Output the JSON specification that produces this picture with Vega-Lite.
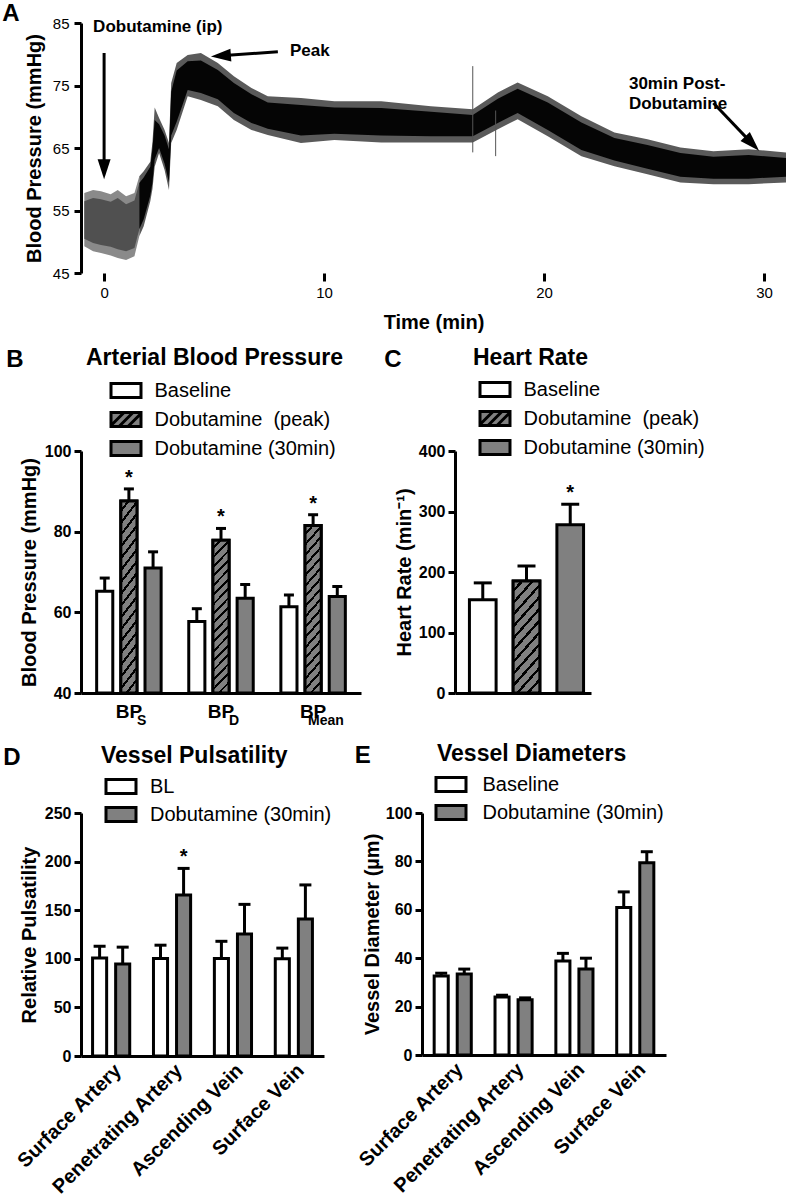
{
"$schema": "https://vega.github.io/schema/vega-lite/v6.json",
"background": "white",
"padding": {"left": 2, "top": 2, "right": 0, "bottom": 0},
"config": {
  "font": "Liberation Sans",
  "view": {"stroke": null},
  "axis": {"domainColor": "black", "domainWidth": 3, "tickColor": "black", "tickWidth": 3, "tickSize": 7, "labelColor": "black", "titleColor": "black", "labelFontSize": 16, "labelFontWeight": "bold", "titleFontSize": 20, "titleFontWeight": "bold", "grid": false, "labelPadding": 3},
  "legend": {"orient": "none", "padding": 0, "symbolType": "M-1.071,-0.5H1.071V0.5H-1.071Z", "symbolSize": 784, "symbolStrokeWidth": 3, "symbolStrokeColor": "black", "symbolOpacity": 1, "labelFontSize": 20, "labelColor": "black", "labelLimit": 400, "direction": "vertical", "rowPadding": 0},
  "title": {"color": "black", "fontWeight": "bold"},
  "bar": {"stroke": "black", "strokeWidth": 3}
},
"datasets": {
  "trace_early": [
    {"t": -0.9, "lo": 49.3, "hi": 57.8, "clo": 50.5, "chi": 56.5},
    {"t": -0.5, "lo": 48.5, "hi": 58.3, "clo": 49.8, "chi": 57.0},
    {"t": -0.14, "lo": 48.2, "hi": 58.1, "clo": 49.5, "chi": 56.8},
    {"t": 0.3, "lo": 47.8, "hi": 57.6, "clo": 49.2, "chi": 56.4},
    {"t": 0.62, "lo": 47.4, "hi": 58.3, "clo": 48.8, "chi": 57.0},
    {"t": 1.0, "lo": 47.1, "hi": 57.3, "clo": 48.5, "chi": 56.0},
    {"t": 1.38, "lo": 47.7, "hi": 57.8, "clo": 49.0, "chi": 56.6},
    {"t": 1.6, "lo": 50.9, "hi": 60.5, "clo": 52.0, "chi": 59.4}
  ],
  "trace_main": [
    {"t": 1.6, "lo": 50.9, "hi": 60.5, "clo": 52.0, "chi": 59.4},
    {"t": 1.8, "lo": 52.5, "hi": 61.3, "clo": 53.6, "chi": 60.3},
    {"t": 2.1, "lo": 56.5, "hi": 62.8, "clo": 57.4, "chi": 62.0},
    {"t": 2.2, "lo": 58.5, "hi": 66.0, "clo": 59.5, "chi": 65.0},
    {"t": 2.3, "lo": 62.0, "hi": 71.5, "clo": 63.2, "chi": 69.5},
    {"t": 2.5, "lo": 64.2, "hi": 69.8, "clo": 65.0, "chi": 68.8},
    {"t": 2.75, "lo": 61.5, "hi": 67.9, "clo": 62.5, "chi": 67.0},
    {"t": 2.95, "lo": 58.3, "hi": 65.8, "clo": 59.5, "chi": 64.8},
    {"t": 3.05, "lo": 65.8, "hi": 75.4, "clo": 67.0, "chi": 74.0},
    {"t": 3.3, "lo": 67.9, "hi": 78.6, "clo": 69.2, "chi": 77.4},
    {"t": 3.8, "lo": 73.3, "hi": 79.9, "clo": 74.3, "chi": 78.9},
    {"t": 4.4, "lo": 72.7, "hi": 80.2, "clo": 73.8, "chi": 79.0},
    {"t": 5.17, "lo": 71.7, "hi": 78.6, "clo": 72.8, "chi": 77.5},
    {"t": 5.9, "lo": 69.5, "hi": 76.5, "clo": 70.6, "chi": 75.4},
    {"t": 6.7, "lo": 67.9, "hi": 74.6, "clo": 69.0, "chi": 73.6},
    {"t": 7.44, "lo": 67.1, "hi": 73.3, "clo": 68.1, "chi": 72.3},
    {"t": 8.95, "lo": 65.8, "hi": 73.0, "clo": 67.0, "chi": 71.9},
    {"t": 10.47, "lo": 66.3, "hi": 72.5, "clo": 67.3, "chi": 71.5},
    {"t": 12.6, "lo": 65.9, "hi": 72.5, "clo": 67.0, "chi": 71.4},
    {"t": 14.86, "lo": 65.9, "hi": 71.7, "clo": 66.9, "chi": 70.8},
    {"t": 16.76, "lo": 65.9, "hi": 71.2, "clo": 66.9, "chi": 70.3},
    {"t": 17.9, "lo": 68.0, "hi": 73.9, "clo": 69.0, "chi": 72.9},
    {"t": 18.8, "lo": 69.6, "hi": 75.5, "clo": 70.6, "chi": 74.5},
    {"t": 20.17, "lo": 66.9, "hi": 73.3, "clo": 67.9, "chi": 72.3},
    {"t": 21.7, "lo": 63.7, "hi": 70.1, "clo": 64.7, "chi": 69.1},
    {"t": 23.2, "lo": 62.1, "hi": 67.5, "clo": 63.0, "chi": 66.6},
    {"t": 24.7, "lo": 60.8, "hi": 66.4, "clo": 61.7, "chi": 65.5},
    {"t": 26.2, "lo": 59.5, "hi": 65.1, "clo": 60.4, "chi": 64.2},
    {"t": 27.7, "lo": 59.2, "hi": 64.5, "clo": 60.1, "chi": 63.6},
    {"t": 29.3, "lo": 59.2, "hi": 64.8, "clo": 60.1, "chi": 63.9},
    {"t": 31.0, "lo": 59.5, "hi": 64.3, "clo": 60.4, "chi": 63.4}
  ],
  "spikes": [
    {"t": 16.76, "lo": 64.3, "hi": 78.1},
    {"t": 17.8, "lo": 63.7, "hi": 71.0}
  ],
  "arrows": [
    {"name": "ip", "t1": 0, "y1": 80.2, "t2": 0, "y2": 61.6},
    {"name": "peak", "t1": 7.9, "y1": 80.4, "t2": 5.31, "y2": 79.75},
    {"name": "post", "t1": 27.7, "y1": 72.2, "t2": 29.46, "y2": 65.7}
  ],
  "notes": [
    {"t": -0.5, "bp": 84.4, "label": "Dobutamine (ip)"},
    {"t": 8.45, "bp": 80.5, "label": "Peak"},
    {"t": 23.86, "bp": 75.2, "label": "30min Post-\nDobutamine"}
  ],
  "bp": [
    {"measure": "BPS", "series": "Baseline", "mean": 65.2, "upper": 68.5, "sig": ""},
    {"measure": "BPS", "series": "Dobutamine\u00a0 (peak)", "mean": 87.6, "upper": 90.6, "sig": "*"},
    {"measure": "BPS", "series": "Dobutamine (30min)", "mean": 71.0, "upper": 75.0, "sig": ""},
    {"measure": "BPD", "series": "Baseline", "mean": 57.7, "upper": 60.9, "sig": ""},
    {"measure": "BPD", "series": "Dobutamine\u00a0 (peak)", "mean": 77.9, "upper": 80.8, "sig": "*"},
    {"measure": "BPD", "series": "Dobutamine (30min)", "mean": 63.5, "upper": 66.9, "sig": ""},
    {"measure": "BPMean", "series": "Baseline", "mean": 61.4, "upper": 64.3, "sig": ""},
    {"measure": "BPMean", "series": "Dobutamine\u00a0 (peak)", "mean": 81.5, "upper": 84.2, "sig": "*"},
    {"measure": "BPMean", "series": "Dobutamine (30min)", "mean": 63.9, "upper": 66.4, "sig": ""}
  ],
  "bpsub": [
    {"measure": "BPS", "sub": "S"},
    {"measure": "BPD", "sub": "D"},
    {"measure": "BPMean", "sub": "Mean"}
  ],
  "hr": [
    {"series": "Baseline", "mean": 154, "upper": 182, "sig": ""},
    {"series": "Dobutamine\u00a0 (peak)", "mean": 185, "upper": 210, "sig": ""},
    {"series": "Dobutamine (30min)", "mean": 278, "upper": 312, "sig": "*"}
  ],
  "puls": [
    {"vessel": "Surface Artery", "group": "BL", "mean": 100.8, "upper": 113, "sig": ""},
    {"vessel": "Surface Artery", "group": "Dobutamine (30min)", "mean": 94.7, "upper": 112, "sig": ""},
    {"vessel": "Penetrating Artery", "group": "BL", "mean": 100.2, "upper": 114, "sig": ""},
    {"vessel": "Penetrating Artery", "group": "Dobutamine (30min)", "mean": 165.6, "upper": 193, "sig": "*"},
    {"vessel": "Ascending Vein", "group": "BL", "mean": 100.4, "upper": 118, "sig": ""},
    {"vessel": "Ascending Vein", "group": "Dobutamine (30min)", "mean": 125.5, "upper": 156, "sig": ""},
    {"vessel": "Surface Vein", "group": "BL", "mean": 100.0, "upper": 111, "sig": ""},
    {"vessel": "Surface Vein", "group": "Dobutamine (30min)", "mean": 141, "upper": 176, "sig": ""}
  ],
  "diam": [
    {"vessel": "Surface Artery", "group": "Baseline", "mean": 32.6, "upper": 33.8},
    {"vessel": "Surface Artery", "group": "Dobutamine (30min)", "mean": 33.5, "upper": 35.5},
    {"vessel": "Penetrating Artery", "group": "Baseline", "mean": 24.0, "upper": 24.7},
    {"vessel": "Penetrating Artery", "group": "Dobutamine (30min)", "mean": 22.8, "upper": 23.6},
    {"vessel": "Ascending Vein", "group": "Baseline", "mean": 38.8, "upper": 42.0},
    {"vessel": "Ascending Vein", "group": "Dobutamine (30min)", "mean": 35.5, "upper": 40.0},
    {"vessel": "Surface Vein", "group": "Baseline", "mean": 61.0, "upper": 67.4},
    {"vessel": "Surface Vein", "group": "Dobutamine (30min)", "mean": 79.4, "upper": 84.0}
  ]
},
"spacing": 15,
"resolve": {"scale": {"color": "independent", "xOffset": "independent", "shape": "independent"}, "legend": {"color": "independent", "shape": "independent"}},
"vconcat": [
  {
    "title": {"text": "A", "anchor": "start", "frame": "bounds", "fontSize": 24, "dx": -22, "offset": -10},
    "width": 705, "height": 250,
    "layer": [
      {"data": {"name": "trace_early"}, "mark": {"type": "area", "color": "#8a8a8a"},
       "encoding": {
         "x": {"field": "t", "type": "quantitative", "scale": {"domain": [-1.05, 31], "nice": false, "zero": false},
               "axis": {"title": "Time (min)", "values": [0, 10, 20, 30], "domain": false, "tickSize": 8, "tickWidth": 3, "labelFontSize": 15, "labelFontWeight": "normal", "labelPadding": 4, "titlePadding": 12}},
         "y": {"field": "lo", "type": "quantitative", "scale": {"domain": [45, 85], "nice": false, "zero": false},
               "axis": {"title": "Blood Pressure (mmHg)", "values": [45, 55, 65, 75, 85], "labelFontSize": 15, "labelFontWeight": "normal", "labelPadding": 5, "titlePadding": 8}},
         "y2": {"field": "hi"}}},
      {"data": {"name": "trace_early"}, "mark": {"type": "area", "color": "#505050"},
       "encoding": {"x": {"field": "t", "type": "quantitative"}, "y": {"field": "clo", "type": "quantitative"}, "y2": {"field": "chi"}}},
      {"data": {"name": "trace_main"}, "mark": {"type": "area", "color": "#5a5a5a"},
       "encoding": {"x": {"field": "t", "type": "quantitative"}, "y": {"field": "lo", "type": "quantitative"}, "y2": {"field": "hi"}}},
      {"data": {"name": "trace_main"}, "mark": {"type": "area", "color": "#050505"},
       "encoding": {"x": {"field": "t", "type": "quantitative"}, "y": {"field": "clo", "type": "quantitative"}, "y2": {"field": "chi"}}},
      {"data": {"name": "spikes"}, "mark": {"type": "rule", "color": "#555555", "strokeWidth": 1},
       "encoding": {"x": {"field": "t", "type": "quantitative"}, "y": {"field": "lo", "type": "quantitative"}, "y2": {"field": "hi"}}},
      {"data": {"name": "arrows"}, "mark": {"type": "rule", "color": "black", "strokeWidth": 3},
       "encoding": {"x": {"field": "t1", "type": "quantitative"}, "y": {"field": "y1", "type": "quantitative"}, "x2": {"field": "t2"}, "y2": {"field": "y2"}}},
      {"data": {"name": "arrows"}, "transform": [{"filter": "datum.name === 'ip'"}],
       "mark": {"type": "point", "shape": "M0,-1L0.65,1L-0.65,1Z", "size": 400, "filled": true, "color": "black", "opacity": 1, "angle": 180},
       "encoding": {"x": {"field": "t2", "type": "quantitative"}, "y": {"field": "y2", "type": "quantitative"}}},
      {"data": {"name": "arrows"}, "transform": [{"filter": "datum.name === 'peak'"}],
       "mark": {"type": "point", "shape": "M0,-1L0.65,1L-0.65,1Z", "size": 400, "filled": true, "color": "black", "opacity": 1, "angle": 266},
       "encoding": {"x": {"field": "t2", "type": "quantitative"}, "y": {"field": "y2", "type": "quantitative"}}},
      {"data": {"name": "arrows"}, "transform": [{"filter": "datum.name === 'post'"}],
       "mark": {"type": "point", "shape": "M0,-1L0.65,1L-0.65,1Z", "size": 400, "filled": true, "color": "black", "opacity": 1, "angle": 136},
       "encoding": {"x": {"field": "t2", "type": "quantitative"}, "y": {"field": "y2", "type": "quantitative"}}},
      {"data": {"name": "notes"}, "mark": {"type": "text", "align": "left", "baseline": "middle", "fontSize": 17, "fontWeight": "bold", "lineBreak": "\n", "lineHeight": 20, "color": "black"},
       "encoding": {"x": {"field": "t", "type": "quantitative"}, "y": {"field": "bp", "type": "quantitative"}, "text": {"field": "label"}}}
    ]
  },
  {
    "hconcat": [
      {
        "title": {"text": "B", "anchor": "start", "frame": "bounds", "fontSize": 24, "dx": -13, "offset": -25},
        "vconcat": [
          {
            "title": {"text": "Arterial Blood Pressure", "anchor": "start", "frame": "group", "dx": 5, "fontSize": 23, "offset": 73},
            "width": 280, "height": 242,
            "data": {"name": "bp"},
            "layer": [
              {"mark": {"type": "bar"},
               "encoding": {
                 "x": {"field": "measure", "type": "nominal", "scale": {"domain": ["BPS", "BPD", "BPMean"], "paddingInner": 0.3, "paddingOuter": 0.17},
                       "axis": {"title": null, "ticks": false, "labelAngle": 0, "labelFontSize": 19, "labelPadding": 9, "labelExpr": "datum.value === 'BPMean' ? 'BP\u00a0\u00a0\u00a0\u00a0\u00a0\u00a0\u00a0' : 'BP\u00a0\u00a0'"}},
                 "xOffset": {"field": "series", "type": "nominal", "scale": {"domain": ["Baseline", "Dobutamine\u00a0 (peak)", "Dobutamine (30min)"], "paddingInner": 0.333}},
                 "y": {"field": "mean", "type": "quantitative", "scale": {"domain": [40, 100], "nice": false, "zero": false},
                       "axis": {"title": "Blood Pressure (mmHg)", "values": [40, 60, 80, 100], "titlePadding": 5}},
                 "y2": {"datum": 40},
                 "color": {"field": "series", "type": "nominal",
                           "scale": {"domain": ["Baseline", "Dobutamine\u00a0 (peak)", "Dobutamine (30min)"], "range": ["white", "#808080", "#808080"]},
                           "legend": {"title": null, "legendX": 29.5, "legendY": -76, "symbolSize": 784, "labelOffset": 13}}
               }},
              {"transform": [{"filter": "false"}],
               "mark": {"type": "point", "filled": true, "opacity": 1, "size": 784, "stroke": "black", "strokeWidth": 3},
               "encoding": {
                 "x": {"field": "measure", "type": "nominal"},
                 "y": {"field": "mean", "type": "quantitative"},
                 "shape": {"field": "series", "type": "nominal",
                           "scale": {"domain": ["Baseline", "Dobutamine\u00a0 (peak)", "Dobutamine (30min)"],
                                     "range": ["M-1.071,-0.5H1.071V0.5H-1.071Z", "M-1.071,-0.5H1.071V0.5H-1.071Z M-1.071,0.431L-0.14,-0.5 M-0.5,0.5L0.5,-0.5 M0.14,0.5L1.071,-0.431", "M-1.071,-0.5H1.071V0.5H-1.071Z"]},
                           "legend": {"title": null, "legendX": 29.5, "legendY": -76, "symbolSize": 784, "labelOffset": 13}}
               }},
              {"transform": [{"filter": "datum.series === 'Dobutamine\u00a0 (peak)'"}],
               "mark": {"type": "bar", "fill": {"gradient": "linear", "x1": 0, "y1": 0, "x2": 0.12, "y2": 1.097, "stops": [
                 {"offset": 0, "color": "#808080"}, {"offset": 0.0389, "color": "#808080"}, {"offset": 0.0389, "color": "#000000"}, {"offset": 0.0556, "color": "#000000"},
                 {"offset": 0.0556, "color": "#808080"}, {"offset": 0.0944, "color": "#808080"}, {"offset": 0.0944, "color": "#000000"}, {"offset": 0.1111, "color": "#000000"},
                 {"offset": 0.1111, "color": "#808080"}, {"offset": 0.15, "color": "#808080"}, {"offset": 0.15, "color": "#000000"}, {"offset": 0.1667, "color": "#000000"},
                 {"offset": 0.1667, "color": "#808080"}, {"offset": 0.2056, "color": "#808080"}, {"offset": 0.2056, "color": "#000000"}, {"offset": 0.2222, "color": "#000000"},
                 {"offset": 0.2222, "color": "#808080"}, {"offset": 0.2611, "color": "#808080"}, {"offset": 0.2611, "color": "#000000"}, {"offset": 0.2778, "color": "#000000"},
                 {"offset": 0.2778, "color": "#808080"}, {"offset": 0.3167, "color": "#808080"}, {"offset": 0.3167, "color": "#000000"}, {"offset": 0.3333, "color": "#000000"},
                 {"offset": 0.3333, "color": "#808080"}, {"offset": 0.3722, "color": "#808080"}, {"offset": 0.3722, "color": "#000000"}, {"offset": 0.3889, "color": "#000000"},
                 {"offset": 0.3889, "color": "#808080"}, {"offset": 0.4278, "color": "#808080"}, {"offset": 0.4278, "color": "#000000"}, {"offset": 0.4444, "color": "#000000"},
                 {"offset": 0.4444, "color": "#808080"}, {"offset": 0.4833, "color": "#808080"}, {"offset": 0.4833, "color": "#000000"}, {"offset": 0.5, "color": "#000000"},
                 {"offset": 0.5, "color": "#808080"}, {"offset": 0.5389, "color": "#808080"}, {"offset": 0.5389, "color": "#000000"}, {"offset": 0.5556, "color": "#000000"},
                 {"offset": 0.5556, "color": "#808080"}, {"offset": 0.5944, "color": "#808080"}, {"offset": 0.5944, "color": "#000000"}, {"offset": 0.6111, "color": "#000000"},
                 {"offset": 0.6111, "color": "#808080"}, {"offset": 0.65, "color": "#808080"}, {"offset": 0.65, "color": "#000000"}, {"offset": 0.6667, "color": "#000000"},
                 {"offset": 0.6667, "color": "#808080"}, {"offset": 0.7056, "color": "#808080"}, {"offset": 0.7056, "color": "#000000"}, {"offset": 0.7222, "color": "#000000"},
                 {"offset": 0.7222, "color": "#808080"}, {"offset": 0.7611, "color": "#808080"}, {"offset": 0.7611, "color": "#000000"}, {"offset": 0.7778, "color": "#000000"},
                 {"offset": 0.7778, "color": "#808080"}, {"offset": 0.8167, "color": "#808080"}, {"offset": 0.8167, "color": "#000000"}, {"offset": 0.8333, "color": "#000000"},
                 {"offset": 0.8333, "color": "#808080"}, {"offset": 0.8722, "color": "#808080"}, {"offset": 0.8722, "color": "#000000"}, {"offset": 0.8889, "color": "#000000"},
                 {"offset": 0.8889, "color": "#808080"}, {"offset": 0.9278, "color": "#808080"}, {"offset": 0.9278, "color": "#000000"}, {"offset": 0.9444, "color": "#000000"},
                 {"offset": 0.9444, "color": "#808080"}, {"offset": 0.9833, "color": "#808080"}, {"offset": 0.9833, "color": "#000000"}, {"offset": 1, "color": "#000000"}]}},
               "encoding": {"x": {"field": "measure", "type": "nominal"}, "xOffset": {"field": "series", "type": "nominal"}, "y": {"field": "mean", "type": "quantitative"}, "y2": {"datum": 40}}},
              {"mark": {"type": "rule", "color": "black", "strokeWidth": 3},
               "encoding": {"x": {"field": "measure", "type": "nominal"}, "xOffset": {"field": "series", "type": "nominal"}, "y": {"field": "mean", "type": "quantitative"}, "y2": {"field": "upper"}}},
              {"mark": {"type": "tick", "color": "black", "thickness": 3, "size": 10, "opacity": 1},
               "encoding": {"x": {"field": "measure", "type": "nominal"}, "xOffset": {"field": "series", "type": "nominal"}, "y": {"field": "upper", "type": "quantitative"}}},
              {"transform": [{"filter": "datum.sig === '*'"}],
               "mark": {"type": "text", "fontSize": 20, "fontWeight": "bold", "baseline": "alphabetic", "dy": -5, "color": "black"},
               "encoding": {"x": {"field": "measure", "type": "nominal"}, "xOffset": {"field": "series", "type": "nominal"}, "y": {"field": "upper", "type": "quantitative"}, "text": {"field": "sig"}}},
              {"data": {"name": "bpsub"}, "transform": [{"filter": "datum.measure !== 'BPMean'"}],
               "mark": {"type": "text", "align": "left", "baseline": "top", "dx": 8, "dy": 21, "fontSize": 14, "fontWeight": "bold", "color": "black"},
               "encoding": {"x": {"field": "measure", "type": "nominal"}, "y": {"datum": 40}, "text": {"field": "sub"}}},
              {"data": {"name": "bpsub"}, "transform": [{"filter": "datum.measure === 'BPMean'"}],
               "mark": {"type": "text", "align": "left", "baseline": "top", "dx": -5, "dy": 21, "fontSize": 14, "fontWeight": "bold", "color": "black"},
               "encoding": {"x": {"field": "measure", "type": "nominal"}, "y": {"datum": 40}, "text": {"field": "sub"}}}
            ]
          }
        ]
      },
      {
        "title": {"text": "C", "anchor": "start", "frame": "bounds", "fontSize": 24, "dx": -10, "offset": -25},
        "vconcat": [
          {
            "title": {"text": "Heart Rate", "anchor": "start", "frame": "group", "dx": 18, "fontSize": 23, "offset": 73},
            "width": 136, "height": 242,
            "data": {"name": "hr"},
            "layer": [
              {"mark": {"type": "bar"},
               "encoding": {
                 "x": {"field": "series", "type": "nominal", "scale": {"domain": ["Baseline", "Dobutamine\u00a0 (peak)", "Dobutamine (30min)"], "paddingInner": 0.39, "paddingOuter": 0.25, "align": 0.66},
                       "axis": {"title": null, "ticks": false, "labels": false}},
                 "y": {"field": "mean", "type": "quantitative", "scale": {"domain": [0, 400], "nice": false},
                       "axis": {"title": "Heart Rate (min\u207b\u00b9)", "values": [0, 100, 200, 300, 400], "titlePadding": 4}},
                 "color": {"field": "series", "type": "nominal",
                           "scale": {"domain": ["Baseline", "Dobutamine\u00a0 (peak)", "Dobutamine (30min)"], "range": ["white", "#808080", "#808080"]},
                           "legend": {"title": null, "legendX": 24.5, "legendY": -77, "symbolSize": 784, "labelOffset": 13}}
               }},
              {"transform": [{"filter": "false"}],
               "mark": {"type": "point", "filled": true, "opacity": 1, "size": 784, "stroke": "black", "strokeWidth": 3},
               "encoding": {
                 "x": {"field": "series", "type": "nominal"},
                 "y": {"field": "mean", "type": "quantitative"},
                 "shape": {"field": "series", "type": "nominal",
                           "scale": {"domain": ["Baseline", "Dobutamine\u00a0 (peak)", "Dobutamine (30min)"],
                                     "range": ["M-1.071,-0.5H1.071V0.5H-1.071Z", "M-1.071,-0.5H1.071V0.5H-1.071Z M-1.071,0.431L-0.14,-0.5 M-0.5,0.5L0.5,-0.5 M0.14,0.5L1.071,-0.431", "M-1.071,-0.5H1.071V0.5H-1.071Z"]},
                           "legend": {"title": null, "legendX": 24.5, "legendY": -77, "symbolSize": 784, "labelOffset": 13}}
               }},
              {"transform": [{"filter": "datum.series === 'Dobutamine\u00a0 (peak)'"}],
               "mark": {"type": "bar", "fill": {"gradient": "linear", "x1": 0, "y1": 0, "x2": 0.317, "y2": 1.183, "stops": [
                 {"offset": 0, "color": "#808080"}, {"offset": 0.0583, "color": "#808080"}, {"offset": 0.0583, "color": "#000000"}, {"offset": 0.0833, "color": "#000000"},
                 {"offset": 0.0833, "color": "#808080"}, {"offset": 0.1417, "color": "#808080"}, {"offset": 0.1417, "color": "#000000"}, {"offset": 0.1667, "color": "#000000"},
                 {"offset": 0.1667, "color": "#808080"}, {"offset": 0.225, "color": "#808080"}, {"offset": 0.225, "color": "#000000"}, {"offset": 0.25, "color": "#000000"},
                 {"offset": 0.25, "color": "#808080"}, {"offset": 0.3083, "color": "#808080"}, {"offset": 0.3083, "color": "#000000"}, {"offset": 0.3333, "color": "#000000"},
                 {"offset": 0.3333, "color": "#808080"}, {"offset": 0.3917, "color": "#808080"}, {"offset": 0.3917, "color": "#000000"}, {"offset": 0.4167, "color": "#000000"},
                 {"offset": 0.4167, "color": "#808080"}, {"offset": 0.475, "color": "#808080"}, {"offset": 0.475, "color": "#000000"}, {"offset": 0.5, "color": "#000000"},
                 {"offset": 0.5, "color": "#808080"}, {"offset": 0.5583, "color": "#808080"}, {"offset": 0.5583, "color": "#000000"}, {"offset": 0.5833, "color": "#000000"},
                 {"offset": 0.5833, "color": "#808080"}, {"offset": 0.6417, "color": "#808080"}, {"offset": 0.6417, "color": "#000000"}, {"offset": 0.6667, "color": "#000000"},
                 {"offset": 0.6667, "color": "#808080"}, {"offset": 0.725, "color": "#808080"}, {"offset": 0.725, "color": "#000000"}, {"offset": 0.75, "color": "#000000"},
                 {"offset": 0.75, "color": "#808080"}, {"offset": 0.8083, "color": "#808080"}, {"offset": 0.8083, "color": "#000000"}, {"offset": 0.8333, "color": "#000000"},
                 {"offset": 0.8333, "color": "#808080"}, {"offset": 0.8917, "color": "#808080"}, {"offset": 0.8917, "color": "#000000"}, {"offset": 0.9167, "color": "#000000"},
                 {"offset": 0.9167, "color": "#808080"}, {"offset": 0.975, "color": "#808080"}, {"offset": 0.975, "color": "#000000"}, {"offset": 1, "color": "#000000"}]}},
               "encoding": {"x": {"field": "series", "type": "nominal"}, "y": {"field": "mean", "type": "quantitative"}}},
              {"mark": {"type": "rule", "color": "black", "strokeWidth": 3},
               "encoding": {"x": {"field": "series", "type": "nominal"}, "y": {"field": "mean", "type": "quantitative"}, "y2": {"field": "upper"}}},
              {"mark": {"type": "tick", "color": "black", "thickness": 3, "size": 18, "opacity": 1},
               "encoding": {"x": {"field": "series", "type": "nominal"}, "y": {"field": "upper", "type": "quantitative"}}},
              {"transform": [{"filter": "datum.sig === '*'"}],
               "mark": {"type": "text", "fontSize": 20, "fontWeight": "bold", "baseline": "alphabetic", "dy": -5, "color": "black"},
               "encoding": {"x": {"field": "series", "type": "nominal"}, "y": {"field": "upper", "type": "quantitative"}, "text": {"field": "sig"}}}
            ]
          }
        ]
      }
    ],
    "spacing": 23,
    "resolve": {"scale": {"color": "independent", "xOffset": "independent", "shape": "independent"}, "legend": {"color": "independent", "shape": "independent"}}
  },
  {
    "hconcat": [
      {
        "title": {"text": "D", "anchor": "start", "frame": "bounds", "fontSize": 24, "dx": -10, "offset": -25},
        "vconcat": [
          {
            "title": {"text": "Vessel Pulsatility", "anchor": "start", "frame": "group", "dx": 20, "fontSize": 23, "offset": 37},
            "width": 243, "height": 243,
            "data": {"name": "puls"},
            "layer": [
              {"mark": {"type": "bar"},
               "encoding": {
                 "x": {"field": "vessel", "type": "nominal", "scale": {"domain": ["Surface Artery", "Penetrating Artery", "Ascending Vein", "Surface Vein"], "paddingInner": 0.39, "paddingOuter": 0.19},
                       "axis": {"title": null, "ticks": false, "labelAngle": -45, "labelFontSize": 20, "labelPadding": 4}},
                 "xOffset": {"field": "group", "type": "nominal", "scale": {"domain": ["BL", "Dobutamine (30min)"], "paddingInner": 0.39}},
                 "y": {"field": "mean", "type": "quantitative", "scale": {"domain": [0, 250], "nice": false},
                       "axis": {"title": "Relative Pulsatility", "values": [0, 50, 100, 150, 200, 250], "titlePadding": 5}},
                 "color": {"field": "group", "type": "nominal",
                           "scale": {"domain": ["BL", "Dobutamine (30min)"], "range": ["white", "#808080"]},
                           "legend": {"title": null, "legendX": 25.5, "legendY": -41, "symbolType": "M-1.154,-0.538H1.154V0.538H-1.154Z", "symbolSize": 676, "labelOffset": 14.5}}
               }},
              {"mark": {"type": "rule", "color": "black", "strokeWidth": 3},
               "encoding": {"x": {"field": "vessel", "type": "nominal"}, "xOffset": {"field": "group", "type": "nominal"}, "y": {"field": "mean", "type": "quantitative"}, "y2": {"field": "upper"}}},
              {"mark": {"type": "tick", "color": "black", "thickness": 3, "size": 12, "opacity": 1},
               "encoding": {"x": {"field": "vessel", "type": "nominal"}, "xOffset": {"field": "group", "type": "nominal"}, "y": {"field": "upper", "type": "quantitative"}}},
              {"transform": [{"filter": "datum.sig === '*'"}],
               "mark": {"type": "text", "fontSize": 20, "fontWeight": "bold", "baseline": "alphabetic", "dy": -5, "color": "black"},
               "encoding": {"x": {"field": "vessel", "type": "nominal"}, "xOffset": {"field": "group", "type": "nominal"}, "y": {"field": "upper", "type": "quantitative"}, "text": {"field": "sig"}}}
            ]
          }
        ]
      },
      {
        "title": {"text": "E", "anchor": "start", "frame": "bounds", "fontSize": 24, "dx": 0, "offset": -25},
        "vconcat": [
          {
            "title": {"text": "Vessel Diameters", "anchor": "start", "frame": "group", "dx": 15, "fontSize": 23, "offset": 39},
            "width": 244, "height": 242,
            "data": {"name": "diam"},
            "layer": [
              {"mark": {"type": "bar"},
               "encoding": {
                 "x": {"field": "vessel", "type": "nominal", "scale": {"domain": ["Surface Artery", "Penetrating Artery", "Ascending Vein", "Surface Vein"], "paddingInner": 0.39, "paddingOuter": 0.2},
                       "axis": {"title": null, "ticks": false, "labelAngle": -45, "labelFontSize": 20, "labelPadding": 4}},
                 "xOffset": {"field": "group", "type": "nominal", "scale": {"domain": ["Baseline", "Dobutamine (30min)"], "paddingInner": 0.39}},
                 "y": {"field": "mean", "type": "quantitative", "scale": {"domain": [0, 100], "nice": false},
                       "axis": {"title": "Vessel Diameter (\u00b5m)", "values": [0, 20, 40, 60, 80, 100], "titlePadding": 3}},
                 "color": {"field": "group", "type": "nominal",
                           "scale": {"domain": ["Baseline", "Dobutamine (30min)"], "range": ["white", "#808080"]},
                           "legend": {"title": null, "legendX": 14.5, "legendY": -43, "symbolType": "M-1.154,-0.538H1.154V0.538H-1.154Z", "symbolSize": 676, "labelOffset": 17}}
               }},
              {"mark": {"type": "rule", "color": "black", "strokeWidth": 3},
               "encoding": {"x": {"field": "vessel", "type": "nominal"}, "xOffset": {"field": "group", "type": "nominal"}, "y": {"field": "mean", "type": "quantitative"}, "y2": {"field": "upper"}}},
              {"mark": {"type": "tick", "color": "black", "thickness": 3, "size": 12, "opacity": 1},
               "encoding": {"x": {"field": "vessel", "type": "nominal"}, "xOffset": {"field": "group", "type": "nominal"}, "y": {"field": "upper", "type": "quantitative"}}}
            ]
          }
        ]
      }
    ],
    "spacing": 22,
    "resolve": {"scale": {"color": "independent", "xOffset": "independent", "shape": "independent"}, "legend": {"color": "independent", "shape": "independent"}}
  }
]
}
